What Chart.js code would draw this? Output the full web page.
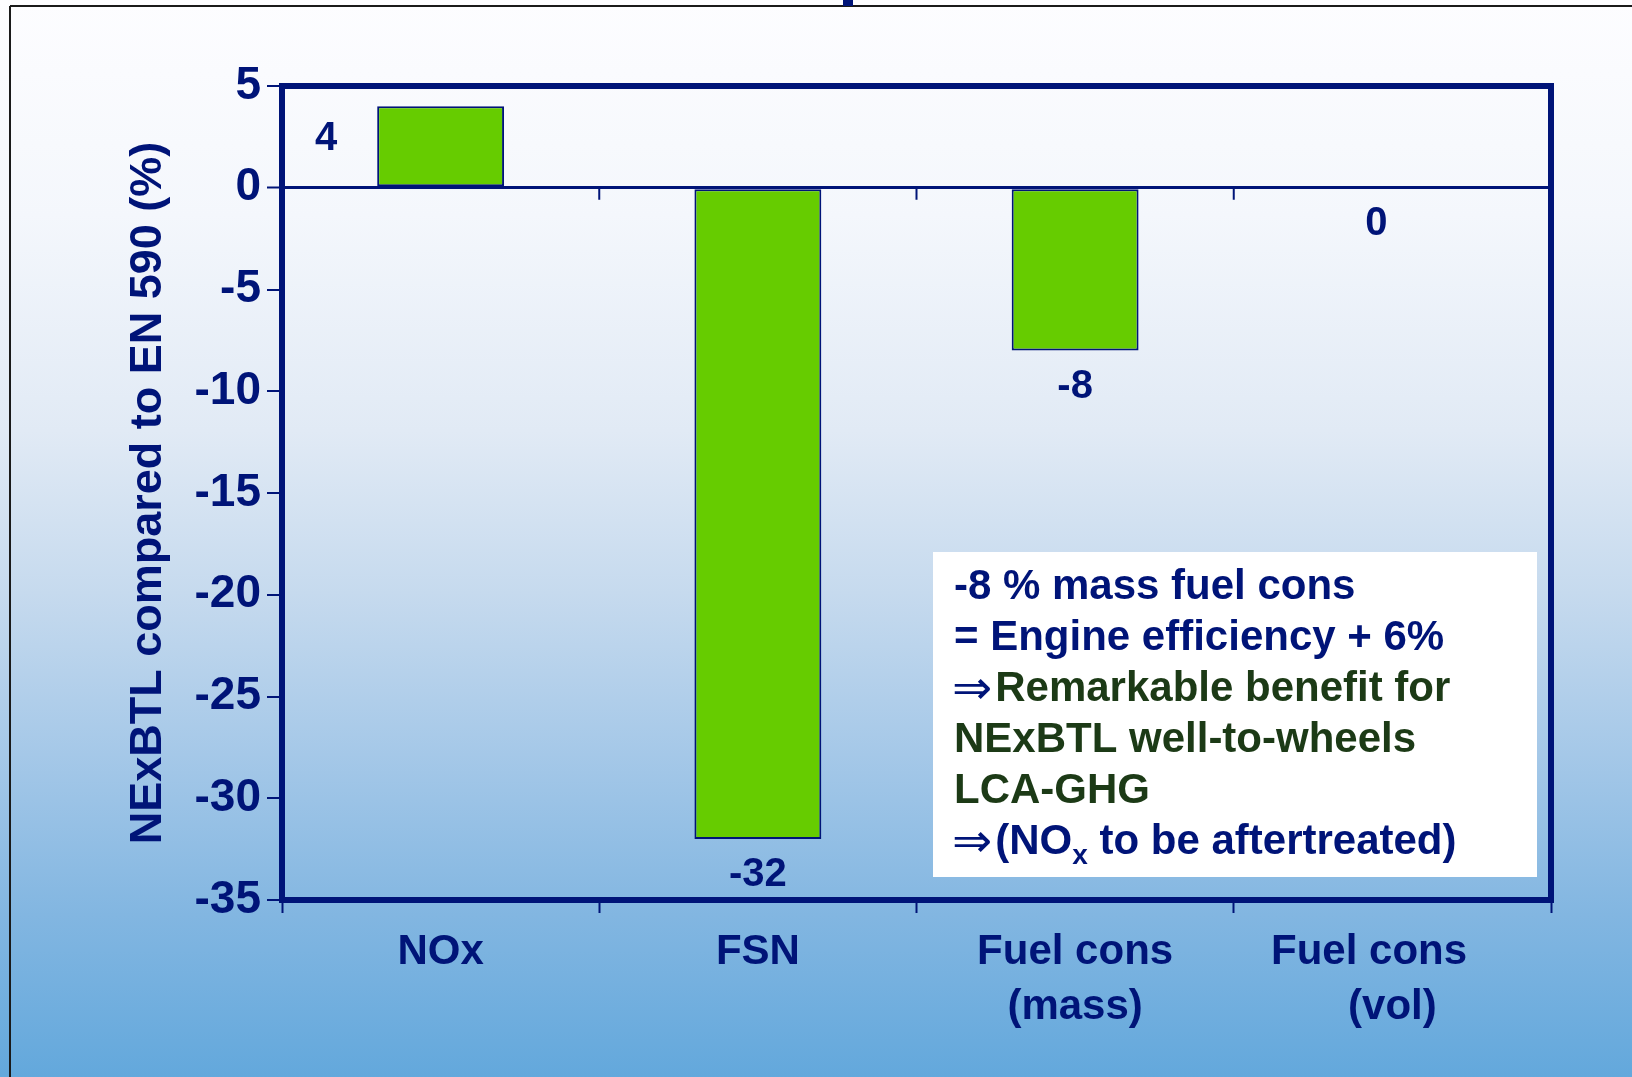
<!DOCTYPE html>
<html>
<head>
<meta charset="utf-8">
<script src="https://cdn.jsdelivr.net/npm/chart.js@4.4.1/dist/chart.umd.min.js"></script>
<style>
  html, body { margin: 0; padding: 0; background: #fff; }
  #wrap { width: 1632px; height: 1077px; }
</style>
</head>
<body>
<div id="wrap"><canvas id="chart" width="1632" height="1077"></canvas></div>
<script>
// data
const categories = ["NOx", "FSN", ["Fuel cons", "(mass)"], ["Fuel cons    ", "(vol)"]];
const changePct = [4, -32, -8, 0];
const yMin = -35;
const yMax = 5;
const yStep = 5;
const axisTitle = "NExBTL compared to EN 590 (%)";
const noteLines = [
	[["-8 % mass fuel cons", "navy"]],
	[["= Engine efficiency + 6%", "navy"]],
	[["\u21D2", "arrow"], ["Remarkable benefit for", "green"]],
	[["NExBTL well-to-wheels", "green"]],
	[["LCA-GHG", "green"]],
	[["\u21D2", "arrow"], ["(NO", "navy"], ["x", "sub"], [" to be aftertreated)", "navy"]],
];

const NAVY = "#001478";
const GREEN_TXT = "#1c3a16";
const BAR = "#66cc00";
const FONT = '"Liberation Sans", Arial, Helvetica, sans-serif';

const slideBackground = {
	id: "slideBackground",
	beforeDraw(chart) {
		const { ctx, width, height } = chart;
		ctx.save();
		const g = ctx.createLinearGradient(0, 0, 0, height);
		g.addColorStop(0, "#fdfdff");
		g.addColorStop(0.2, "#f4f7fc");
		g.addColorStop(0.4, "#e1eaf5");
		g.addColorStop(0.55, "#c6daee");
		g.addColorStop(0.7, "#a5c8e8");
		g.addColorStop(0.85, "#82b6e1");
		g.addColorStop(1, "#63a8dc");
		ctx.fillStyle = g;
		ctx.fillRect(0, 0, width, height);
		// slide frame lines
		ctx.strokeStyle = "#1a1a1a";
		ctx.lineWidth = 2;
		ctx.beginPath();
		ctx.moveTo(10, 6);
		ctx.lineTo(width, 6);
		ctx.moveTo(10, 6);
		ctx.lineTo(10, height);
		ctx.stroke();
		// bit of the cut-off slide title
		ctx.fillStyle = NAVY;
		ctx.fillRect(843, 0, 10, 6);
		ctx.restore();
	},
};

const plotFrame = {
	id: "plotFrame",
	afterDatasetsDraw(chart) {
		const { ctx, chartArea } = chart;
		const x = chart.scales.x;
		const y = chart.scales.y;
		const y0 = y.getPixelForValue(0);
		ctx.save();
		// small ticks under the zero line at category boundaries
		ctx.strokeStyle = NAVY;
		ctx.lineWidth = 2;
		ctx.beginPath();
		for (let i = 1; i < changePct.length; i++) {
			const bx = (x.getPixelForValue(i - 1) + x.getPixelForValue(i)) / 2;
			ctx.moveTo(bx, y0);
			ctx.lineTo(bx, y0 + 12);
		}
		ctx.stroke();

		// value labels
		const meta = chart.getDatasetMeta(0);
		ctx.font = "bold 40px " + FONT;
		ctx.fillStyle = NAVY;
		ctx.textAlign = "center";
		ctx.textBaseline = "middle";
		meta.data.forEach((bar, i) => {
			const v = changePct[i];
			if (v > 0) {
				ctx.fillText(String(v), bar.x - bar.width / 2 - 51, bar.y + 33);
			} else if (v < 0) {
				ctx.fillText(String(v), bar.x, bar.y + 36);
			} else {
				// empty bar: label sits a little left of centre, as on the slide
				ctx.fillText(String(v), bar.x - 16, bar.y + 36);
			}
		});

		// top + right edges of the plot box
		ctx.lineWidth = 6;
		ctx.lineCap = "square";
		ctx.beginPath();
		ctx.moveTo(chartArea.left, chartArea.top);
		ctx.lineTo(chartArea.right, chartArea.top);
		ctx.lineTo(chartArea.right, chartArea.bottom);
		ctx.stroke();
		ctx.restore();
	},
	afterDraw(chart) {
		const { ctx } = chart;
		ctx.save();
		// note box
		ctx.fillStyle = "#ffffff";
		ctx.fillRect(933, 552, 604, 325);
		ctx.textBaseline = "middle";
		ctx.textAlign = "left";
		noteLines.forEach((line, li) => {
			let tx = 954;
			const ty = 587 + li * 51;
			line.forEach(([txt, kind]) => {
				if (kind === "arrow") {
					ctx.font = "48px DejaVu Sans, sans-serif";
					ctx.fillStyle = NAVY;
					ctx.fillText(txt, tx - 2, ty + 3);
					tx += ctx.measureText(txt).width + 1;
				} else if (kind === "sub") {
					ctx.font = "bold 28px " + FONT;
					ctx.fillStyle = NAVY;
					ctx.fillText(txt, tx, ty + 14);
					tx += ctx.measureText(txt).width;
				} else {
					ctx.font = "bold 42px " + FONT;
					ctx.fillStyle = kind === "green" ? GREEN_TXT : NAVY;
					ctx.fillText(txt, tx, ty);
					tx += ctx.measureText(txt).width;
				}
			});
		});
		ctx.restore();
	},
};

const ctx = document.getElementById("chart").getContext("2d");

new Chart(ctx, {
	type: "bar",
	data: {
		labels: categories,
		datasets: [
			{
				data: changePct,
				backgroundColor: BAR,
				borderColor: NAVY,
				borderWidth: 2,
				borderSkipped: false,
				barPercentage: 0.4,
				categoryPercentage: 1.0,
			},
		],
	},
	options: {
		responsive: false,
		animation: false,
		devicePixelRatio: 1,
		layout: { padding: { top: 86, right: 81, left: 0, bottom: 0 } },
		plugins: {
			legend: { display: false },
			tooltip: { enabled: false },
		},
		scales: {
			x: {
				afterFit: (s) => {
					s.height = 177;
				},
				grid: {
					offset: true,
					drawOnChartArea: false,
					drawTicks: true,
					tickLength: 13,
					tickColor: NAVY,
					tickWidth: 2,
				},
				border: { color: NAVY, width: 6 },
				ticks: {
					color: NAVY,
					padding: 12,
					maxRotation: 0,
					autoSkip: false,
					font: { family: FONT, size: 42, weight: "bold", lineHeight: 1.31 },
				},
			},
			y: {
				min: yMin,
				max: yMax,
				afterFit: (s) => {
					s.width = 282;
				},
				ticks: {
					stepSize: yStep,
					color: NAVY,
					padding: 6,
					font: { family: FONT, size: 46, weight: "bold" },
				},
				grid: {
					drawOnChartArea: true,
					color: (c) => (c.tick && c.tick.value === 0 ? NAVY : "rgba(0,0,0,0)"),
					lineWidth: (c) => (c.tick && c.tick.value === 0 ? 3 : 0),
					tickColor: NAVY,
					tickWidth: 2,
					tickLength: 15,
				},
				border: { color: NAVY, width: 6 },
				title: {
					display: true,
					text: axisTitle,
					color: NAVY,
					padding: { top: 122, bottom: 0 },
					font: { family: FONT, size: 45, weight: "bold", lineHeight: 1.2 },
				},
			},
		},
	},
	plugins: [slideBackground, plotFrame],
});
</script>
</body>
</html>
